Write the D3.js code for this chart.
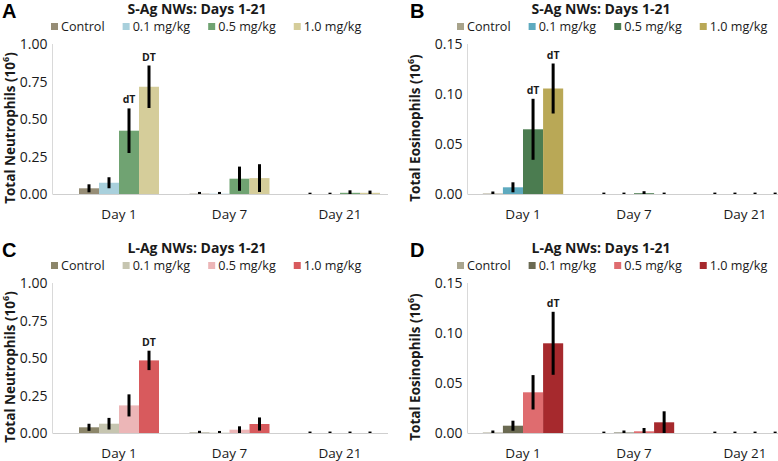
<!DOCTYPE html>
<html>
<head>
<meta charset="utf-8">
<script src="https://d3js.org/d3.v7.min.js"></script>
<style>
  body { margin: 0; background: #fff; }
  svg { display: block; }
  text { font-family: "Open Sans", "DejaVu Sans", sans-serif; fill: #1a1a1a; }
  .panel-letter { font-family: "Liberation Sans", Arial, sans-serif; font-weight: bold; font-size: 20px; fill: #000; }
  .title { font-weight: bold; font-size: 14px; }
  .legend text { font-size: 12.6px; }
  .tick { font-size: 14px; }
  .day { font-size: 13.5px; }
  .ytitle { font-weight: bold; font-size: 13.5px; }
  .sig { font-weight: bold; font-size: 10.5px; }
</style>
</head>
<body>
<svg width="778" height="461"></svg>
<script>
// ---- data ----
const days = ["Day 1", "Day 7", "Day 21"];
const doses = ["Control", "0.1 mg/kg", "0.5 mg/kg", "1.0 mg/kg"];
const neutTicks = [0, 0.25, 0.5, 0.75, 1.0];
const eosTicks = [0, 0.05, 0.10, 0.15];

// rows = days, columns = doses
const sAgNeutMean = [[0.038, 0.075, 0.422, 0.715], [0.002, 0.002, 0.102, 0.106], [0, 0, 0.008, 0.008]];
const sAgNeutErr  = [[0.020, 0.030, 0.142, 0.135], [0.005, 0.005, 0.074, 0.086], [0.002, 0.002, 0.010, 0.008]];
const sAgNeutSig  = [["", "", "dT", "DT"], ["", "", "", ""], ["", "", "", ""]];

const sAgEosMean = [[0.0005, 0.0067, 0.0647, 0.1055], [0, 0, 0.0008, 0], [0, 0, 0, 0]];
const sAgEosErr  = [[0.0010, 0.0040, 0.0295, 0.0240], [0.0004, 0.0004, 0.0010, 0.0004], [0.0004, 0.0004, 0.0004, 0.0004]];
const sAgEosSig  = [["", "", "dT", "dT"], ["", "", "", ""], ["", "", "", ""]];

const lAgNeutMean = [[0.038, 0.062, 0.184, 0.484], [0.003, 0.002, 0.022, 0.060], [0, 0, 0, 0]];
const lAgNeutErr  = [[0.017, 0.032, 0.067, 0.058], [0.005, 0.005, 0.016, 0.037], [0.003, 0.003, 0.003, 0.003]];
const lAgNeutSig  = [["", "", "", "DT"], ["", "", "", ""], ["", "", "", ""]];

const lAgEosMean = [[0.0005, 0.0073, 0.0407, 0.0897], [0, 0.0005, 0.0017, 0.0107], [0, 0, 0, 0]];
const lAgEosErr  = [[0.0010, 0.0040, 0.0162, 0.0305], [0.0004, 0.0010, 0.0023, 0.0100], [0.0004, 0.0004, 0.0004, 0.0004]];
const lAgEosSig  = [["", "", "", "dT"], ["", "", "", ""], ["", "", "", ""]];

const colorsA = ["#968d76", "#a9d0dc", "#70a372", "#d5cd9a"];
const colorsB = ["#a8a38b", "#5eaabf", "#4b7c50", "#b9a856"];
const colorsC = ["#8c866a", "#c6c5b0", "#ecb6b7", "#d85a5d"];
const colorsD = ["#a9a58f", "#6b6a52", "#df6c6f", "#a6292d"];

var svg = d3.select("svg");

function drawPanel(p) {
  var g = svg.append("g").attr("transform", "translate(" + p.dx + "," + p.dy + ")");
  var top = 44, bottom = 194;

  var y = d3.scaleLinear().domain([0, p.ticks[p.ticks.length - 1]]).range([bottom, top]);
  var x0 = d3.scaleBand().domain(days).range(p.xr).paddingInner(0.276).paddingOuter(0.138);
  var x1 = d3.scaleBand().domain(doses).range([0, x0.bandwidth()]);
  var color = d3.scaleOrdinal().domain(doses).range(p.colors);

  g.append("text").attr("class", "panel-letter").attr("x", p.letterX).attr("y", 18).text(p.letter);
  g.append("text").attr("class", "title").attr("x", p.titleX).attr("y", 13.5)
    .attr("text-anchor", "middle").text(p.title);

  // legend
  var lg = g.append("g").attr("class", "legend");
  var lx = p.legendX;
  doses.forEach(function(d, i) {
    lg.append("rect").attr("x", lx).attr("y", 23).attr("width", 7).attr("height", 7).attr("fill", color(d));
    var t = lg.append("text").attr("x", lx + 10).attr("y", 30.5).text(d);
    lx += 10 + t.node().getComputedTextLength() + p.legendGap;
  });

  // axes lines
  g.append("line").attr("x1", p.axisX).attr("x2", p.axisX).attr("y1", top).attr("y2", bottom)
    .attr("stroke", "#d9d9d9");
  g.append("line").attr("x1", p.axisX).attr("x2", p.baseEnd).attr("y1", bottom + 0.5).attr("y2", bottom + 0.5)
    .attr("stroke", "#cfcfcf");

  g.selectAll(".tick").data(p.ticks).enter().append("text")
    .attr("class", "tick").attr("x", p.axisX - 5).attr("y", function(d) { return y(d); })
    .attr("dy", "0.36em").attr("text-anchor", "end").text(d3.format(".2f"));

  g.selectAll(".day").data(days).enter().append("text")
    .attr("class", "day").attr("x", function(d) { return x0(d) + x0.bandwidth() / 2; })
    .attr("y", 219).attr("text-anchor", "middle").text(function(d) { return d; });

  var yt = g.append("text").attr("class", "ytitle")
    .attr("transform", "translate(" + p.ytitleX + "," + ((top + bottom) / 2 + 9) + ") rotate(-90)")
    .attr("text-anchor", "middle").attr("dy", "0.35em");
  yt.append("tspan").text(p.ytitle + " (10");
  yt.append("tspan").attr("font-size", "9px").attr("dy", "-0.6em").text("6");
  yt.append("tspan").attr("dy", "0.45em").text(")");

  // bars
  var rows = [];
  days.forEach(function(day, i) {
    doses.forEach(function(dose, j) {
      rows.push({ day: day, dose: dose, v: p.mean[i][j], e: p.err[i][j], sig: p.sig[i][j] });
    });
  });

  g.selectAll(".bar").data(rows).enter().append("rect")
    .attr("x", function(d) { return x0(d.day) + x1(d.dose); })
    .attr("y", function(d) { return y(d.v); })
    .attr("width", x1.bandwidth())
    .attr("height", function(d) { return bottom - y(d.v); })
    .attr("fill", function(d) { return color(d.dose); });

  var eb = g.selectAll(".err").data(rows).enter().append("g");
  eb.append("line")
    .attr("x1", function(d) { return x0(d.day) + x1(d.dose) + x1.bandwidth() / 2; })
    .attr("x2", function(d) { return x0(d.day) + x1(d.dose) + x1.bandwidth() / 2; })
    .attr("y1", function(d) { return y(d.v + d.e) - 1; })
    .attr("y2", function(d) { return Math.min(y(Math.max(0, d.v - d.e)) + 1, bottom); })
    .attr("stroke", "#000").attr("stroke-width", 3);

  g.selectAll(".sig").data(rows.filter(function(d) { return d.sig; })).enter().append("text")
    .attr("class", "sig")
    .attr("x", function(d) { return x0(d.day) + x1(d.dose) + x1.bandwidth() / 2; })
    .attr("y", function(d) { return y(d.v + d.e) - 6; })
    .attr("text-anchor", "middle").text(function(d) { return d.sig; });
}

drawPanel({ dx: 0, dy: 0, letter: "A", letterX: 2, title: "S-Ag NWs: Days 1-21", titleX: 197,
  legendX: 51, legendGap: 18, axisX: 52.5, baseEnd: 388, xr: [63.75, 395.25], ytitleX: 10,
  ytitle: "Total Neutrophils", ticks: neutTicks, colors: colorsA,
  mean: sAgNeutMean, err: sAgNeutErr, sig: sAgNeutSig });

drawPanel({ dx: 0, dy: 0, letter: "B", letterX: 410, title: "S-Ag NWs: Days 1-21", titleX: 601,
  legendX: 457, legendGap: 18, axisX: 467.5, baseEnd: 778, xr: [467.5, 800.5], ytitleX: 415,
  ytitle: "Total Eosinophils", ticks: eosTicks, colors: colorsB,
  mean: sAgEosMean, err: sAgEosErr, sig: sAgEosSig });

drawPanel({ dx: 0, dy: 239, letter: "C", letterX: 2, title: "L-Ag NWs: Days 1-21", titleX: 197,
  legendX: 51, legendGap: 18, axisX: 52.5, baseEnd: 388, xr: [63.75, 395.25], ytitleX: 10,
  ytitle: "Total Neutrophils", ticks: neutTicks, colors: colorsC,
  mean: lAgNeutMean, err: lAgNeutErr, sig: lAgNeutSig });

drawPanel({ dx: 0, dy: 239, letter: "D", letterX: 410, title: "L-Ag NWs: Days 1-21", titleX: 601,
  legendX: 457, legendGap: 18, axisX: 467.5, baseEnd: 778, xr: [467.5, 800.5], ytitleX: 415,
  ytitle: "Total Eosinophils", ticks: eosTicks, colors: colorsD,
  mean: lAgEosMean, err: lAgEosErr, sig: lAgEosSig });
</script>
</body>
</html>
